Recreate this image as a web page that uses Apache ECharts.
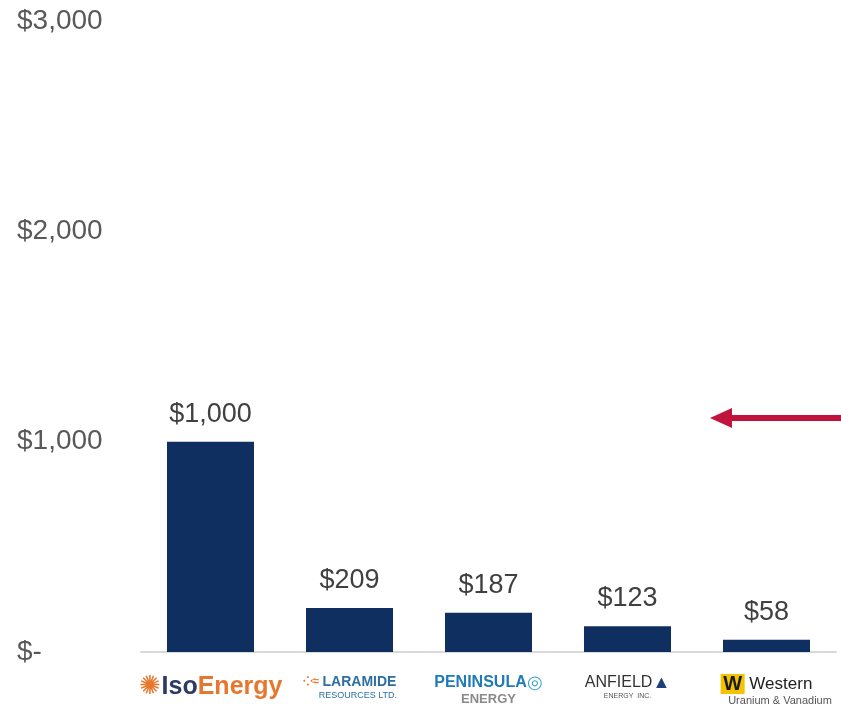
<!DOCTYPE html>
<html>
<head>
<meta charset="utf-8">
<script src="https://cdn.jsdelivr.net/npm/echarts@6/dist/echarts.min.js"></script>
<style>
  html, body { margin: 0; padding: 0; background: #fff; }
  #chart { width: 841px; height: 713px; }
</style>
</head>
<body>
<div id="chart"></div>
<script>
// companies shown as logos under the bars
var companies = ['IsoEnergy', 'Laramide', 'Peninsula', 'Anfield', 'Western'];
var values = [1000, 209, 187, 123, 58];
var yTicks = { min: 0, max: 3000, step: 1000 };

var logoText = {
  IsoEnergy: '{sun|✺}{iso|Iso}{energy|Energy}',
  Laramide: '{lico|⁘≈ }{lar|LARAMIDE}\n{lico|     }{lars|RESOURCES LTD.}',
  Peninsula: '{pen|PENINSULA}{penw|◎}\n{pene|ENERGY}',
  Anfield: '{anf|ANFIELD}{anfi|▲}\n{anfs|ENERGY  INC.}',
  Western: '{wico|W}{wes| Western}\n{wico2| }{wess| Uranium & Vanadium}'
};

var chart = echarts.init(document.getElementById('chart'));

function money(v) {
  return v === 0 ? '$-' : '$' + v.toLocaleString('en-US');
}

var sans = 'Liberation Sans';

chart.setOption({
  animation: false,
  grid: { left: 141, right: 5, top: 21, bottom: 61, containLabel: false },
  xAxis: {
    type: 'category',
    data: companies,
    axisLine: { lineStyle: { color: '#d9d9d9', width: 2 } },
    axisTick: { show: false },
    axisLabel: {
      margin: 22,
      interval: 0,
      fontFamily: sans,
      formatter: function (v) { return logoText[v]; },
      rich: {
        sun: { color: '#e8772e', fontSize: 26, padding: [0, 1, 0, 0] },
        iso: { color: '#2b3a67', fontSize: 25, fontWeight: 'bold', fontFamily: sans },
        energy: { color: '#e8772e', fontSize: 25, fontWeight: 'bold', fontFamily: sans },
        lico: { color: '#e8772e', fontSize: 12, fontWeight: 'bold' },
        lar: { color: '#2d6fa3', fontSize: 14, fontWeight: 'bold', fontFamily: sans, lineHeight: 16 },
        lars: { color: '#2d6fa3', fontSize: 9, fontFamily: sans, lineHeight: 11 },
        pen: { color: '#1e7ab8', fontSize: 16, fontWeight: 'bold', fontFamily: sans, lineHeight: 18 },
        penw: { color: '#3a9fcf', fontSize: 18, lineHeight: 18 },
        pene: { color: '#8a8a8a', fontSize: 13, fontWeight: 'bold', fontFamily: sans, lineHeight: 14 },
        anf: { color: '#333', fontSize: 16, fontFamily: sans, lineHeight: 18 },
        anfi: { color: '#1f3f7a', fontSize: 18, lineHeight: 18 },
        anfs: { color: '#555', fontSize: 7, fontFamily: sans, lineHeight: 9 },
        wico: { color: '#1a1a1a', backgroundColor: '#f3c300', fontSize: 20, fontWeight: 'bold', fontFamily: sans, width: 24, align: 'center', lineHeight: 20 },
        wes: { color: '#222', fontSize: 17, fontFamily: sans, lineHeight: 18 },
        wico2: { fontSize: 11, width: 24 },
        wess: { color: '#555', fontSize: 11, fontFamily: sans, lineHeight: 13 }
      }
    }
  },
  yAxis: {
    type: 'value',
    min: yTicks.min,
    max: yTicks.max,
    interval: yTicks.step,
    splitLine: { show: false },
    axisLine: { show: false },
    axisTick: { show: false },
    axisLabel: {
      align: 'left',
      margin: 124,
      color: '#595959',
      fontSize: 28,
      fontFamily: sans,
      formatter: money
    }
  },
  series: [{
    type: 'bar',
    data: values,
    barWidth: '62.6%',
    itemStyle: { color: '#0e2f5f' },
    label: {
      show: true,
      position: 'top',
      distance: 14,
      color: '#404040',
      fontSize: 27,
      fontFamily: sans,
      formatter: function (p) { return money(p.value); }
    }
  }],
  graphic: [{
    type: 'group',
    left: 710,
    top: 408,
    children: [
      { type: 'rect', shape: { x: 18, y: 7, width: 115, height: 6 }, style: { fill: '#c0143c' } },
      { type: 'polygon', shape: { points: [[0, 10], [22, 0], [22, 20]] }, style: { fill: '#c0143c' } }
    ]
  }]
});
</script>
</body>
</html>
